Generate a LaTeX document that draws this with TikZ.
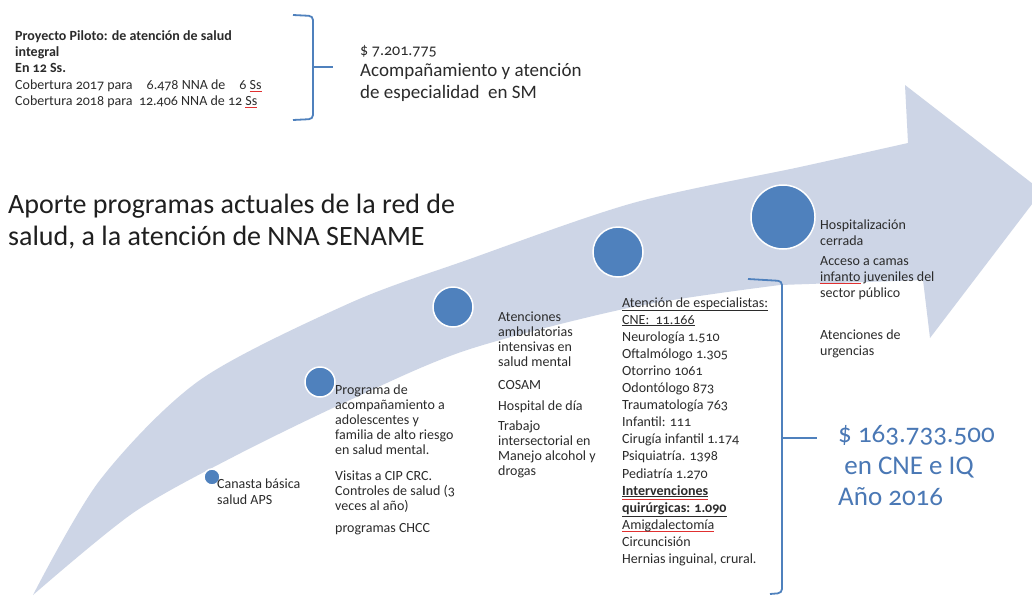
\documentclass[tikz,border=0pt]{standalone}
\usepackage{fontspec}
\setmainfont{Carlito}[Numbers=OldStyle]
\definecolor{band}{HTML}{CDD5E6}
\definecolor{dot}{HTML}{4F81BD}
\definecolor{txt}{HTML}{2B2B2B}
\definecolor{bluetxt}{HTML}{4A78B5}
\definecolor{spell}{HTML}{E03030}
\newlength\rwl
\newcommand\redul[2][-2.8pt]{\settowidth\rwl{#2}\rlap{\textcolor{spell}{\rule[#1]{\rwl}{0.8pt}}}#2}
\newcommand\ml[1]{\begin{tabular}[t]{@{}l@{}}#1\end{tabular}}
\tikzset{
  lbl/.style={font=\fontsize{14}{15}\selectfont, text=txt, anchor=base west, inner sep=0pt},
  dotc/.style={circle, fill=dot, draw=white, line width=1.5pt, inner sep=0pt},
  brk/.style={draw=dot, line width=1.8pt, rounded corners=4pt},
}
\begin{document}
\begin{tikzpicture}[x=1pt,y=-1pt]
\useasboundingbox (0,0) rectangle (1032,597);
\clip (0,0) rectangle (1032,597);
\fill[white] (0,0) rectangle (1032,597);
% big curved arrow
\fill[band] plot[smooth] coordinates {(33,595) (100,480) (200,380) (350,303) (467,260) (633,203) (800,167) (908,143)}
  -- (905,85) -- (1042,191) -- (930,338) -- (923,280)
  -- plot[smooth] coordinates {(780,285) (633,307) (467,350) (350,400) (233,457) (133,513) (33,595)} -- cycle;
% circles
\node[dotc, minimum size=16pt] (c1) at (212,477) {};
\node[dotc, minimum size=30pt] (c2) at (320,382) {};
\node[dotc, minimum size=40pt] (c3) at (453,307) {};
\node[dotc, minimum size=50pt] (c4) at (618,252) {};
\node[dotc, minimum size=64pt] (c5) at (783,217) {};
% title
\node[lbl, font=\fontsize{28}{32}\selectfont, text=black!88] (title) at (8,213)
  {\ml{Aporte programas actuales de la red de\\salud, a la atención de NNA SENAME}};
% top left block
\node[lbl, font=\fontsize{14}{16}\selectfont] (piloto) at (15,40)
  {\ml{\textbf{Proyecto Piloto: de atención de salud}\\\textbf{integral}\\\textbf{En 12 Ss.}\\[1pt]
   Cobertura 2017 para\quad 6.478 NNA de\quad 6 \redul{Ss}\\
   Cobertura 2018 para\ \ 12.406 NNA de 12 \redul{Ss}}};
% top brace
\coordinate (b1t) at (293,15);
\coordinate (b1m) at (313,67);
\coordinate (b1b) at (293,120);
\coordinate (b1p) at (333,67);
\draw[brk] (b1t) -- (313,16) -- (b1m) -- (313,119) -- (b1b);
\draw[brk] (b1m) -- (b1p);
\node[lbl, font=\fontsize{16}{20}\selectfont] (monto1a) at (360,55) {\$ 7.201.775};
\node[lbl, font=\fontsize{19}{22}\selectfont] (monto1) at (360,76)
  {\ml{Acompañamiento y atención\\de especialidad\ \ en SM}};
% column texts
\node[lbl, font=\fontsize{14}{16}\selectfont] (canasta) at (217,488) {\ml{Canasta básica\\salud APS}};
\node[lbl] (programa) at (335,394)
  {\ml{Programa de\\acompañamiento a\\adolescentes y\\familia de alto riesgo\\en salud mental.\\[11pt]
   Visitas a CIP CRC.\\Controles de salud (3\\veces al año)\\[7pt]programas CHCC}};
\node[lbl] (ambul) at (498,321)
  {\ml{Atenciones\\ambulatorias\\intensivas en\\salud mental\\[8pt]COSAM\\[6pt]Hospital de día\\[5pt]
   Trabajo\\intersectorial en\\Manejo alcohol y\\drogas}};
\node[lbl, font=\fontsize{14}{17.1}\selectfont] (espec) at (622,307)
  {\ml{\underline{Atención de especialistas:}\\\underline{CNE:\ \ 11.166}\\Neurología 1.510\\Oftalmólogo 1.305\\
   Otorrino 1061\\Odontólogo 873\\Traumatología 763\\Infantil: 111\\Cirugía infantil 1.174\\
   Psiquiatría. 1398\\Pediatría 1.270\\\redul[-4.2pt]{\underline{\textbf{Intervenciones}}}\\
   \underline{\textbf{quirúrgicas: 1.090}}\\\redul{Amigdalectomía}\\Circuncisión\\Hernias inguinal, crural.}};
\node[lbl, font=\fontsize{14}{16}\selectfont] (hosp) at (820,229)
  {\ml{Hospitalización\\cerrada\\[4pt]Acceso a camas\\\redul{infanto} juveniles del\\sector público\\[26pt]
   Atenciones de\\urgencias}};
% big bracket
\coordinate (b2t) at (748,279);
\coordinate (b2m) at (782,438);
\coordinate (b2b) at (770,594);
\coordinate (b2p) at (817,438);
\draw[brk] (b2t) -- (782,281) -- (b2m) -- (782,593) -- (b2b);
\draw[brk] (b2m) -- (b2p);
\node[lbl, font=\fontsize{27}{32}\selectfont, text=bluetxt] (monto2) at (838,442)
  {\ml{\$ 163.733.500\\\ en CNE e IQ\\[-1pt]Año 2016}};
\end{tikzpicture}
\end{document}
